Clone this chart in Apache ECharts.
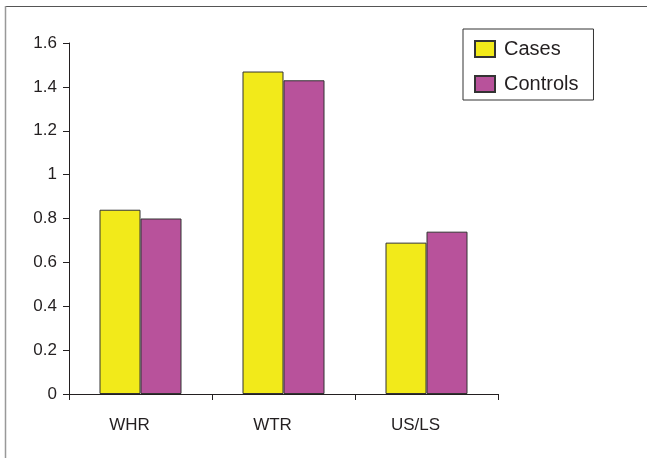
<!DOCTYPE html>
<html>
<head>
<meta charset="utf-8">
<script src="https://cdn.jsdelivr.net/npm/echarts@6/dist/echarts.min.js"></script>
<style>html,body{margin:0;padding:0;background:#fff;}#c{width:647px;height:458px;}</style>
</head>
<body>
<div id="c"></div>
<script>
const categories = ['WHR', 'WTR', 'US/LS'];
const casesValues = [0.84, 1.47, 0.69];
const controlsValues = [0.80, 1.43, 0.74];
const seriesNames = ['Cases', 'Controls'];

const chart = echarts.init(document.getElementById('c'), null, {renderer: 'canvas'});
const font = 'Liberation Sans, Arial, sans-serif';
chart.setOption({
  animation: false,
  backgroundColor: '#fff',
  graphic: [
    {type: 'line', shape: {x1: 5, y1: 6.5, x2: 647, y2: 6.5}, style: {stroke: '#555', lineWidth: 1}},
    {type: 'line', shape: {x1: 5.5, y1: 6, x2: 5.5, y2: 458}, style: {stroke: '#999', lineWidth: 1.5}}
  ],
  grid: {left: 69, top: 43, right: 149, bottom: 64},
  legend: {
    left: 463, top: 29,
    orient: 'vertical',
    itemWidth: 20, itemHeight: 16, itemGap: 15,
    padding: [10, 15, 6, 11],
    borderColor: '#333', borderWidth: 1,
    icon: 'rect',
    textStyle: {fontFamily: font, fontSize: 20, lineHeight: 20, color: '#231f20', padding: [0, 0, 0, 4]},
    data: seriesNames
  },
  xAxis: {
    type: 'category',
    data: categories,
    axisLine: {lineStyle: {color: '#231f20', width: 1}},
    axisTick: {show: true, length: 6, alignWithLabel: false, lineStyle: {color: '#231f20'}},
    axisLabel: {fontFamily: font, fontSize: 17, color: '#231f20', margin: 23, padding: [0, 22, 0, 0]}
  },
  yAxis: {
    type: 'value',
    min: 0, max: 1.6, interval: 0.2,
    axisLine: {show: true, lineStyle: {color: '#231f20', width: 1}},
    axisTick: {show: true, length: 6, lineStyle: {color: '#231f20'}},
    splitLine: {show: false},
    axisLabel: {fontFamily: font, fontSize: 17, color: '#231f20', margin: 12,
      formatter: v => String(Math.round(v * 10) / 10)}
  },
  series: [
    {name: seriesNames[0], type: 'bar', data: casesValues, barWidth: 41, barGap: '0%',
     itemStyle: {color: '#f2ea1a', borderColor: '#333', borderWidth: 1}},
    {name: seriesNames[1], type: 'bar', data: controlsValues, barWidth: 41,
     itemStyle: {color: '#b8529b', borderColor: '#333', borderWidth: 1}}
  ]
});
</script>
</body>
</html>
